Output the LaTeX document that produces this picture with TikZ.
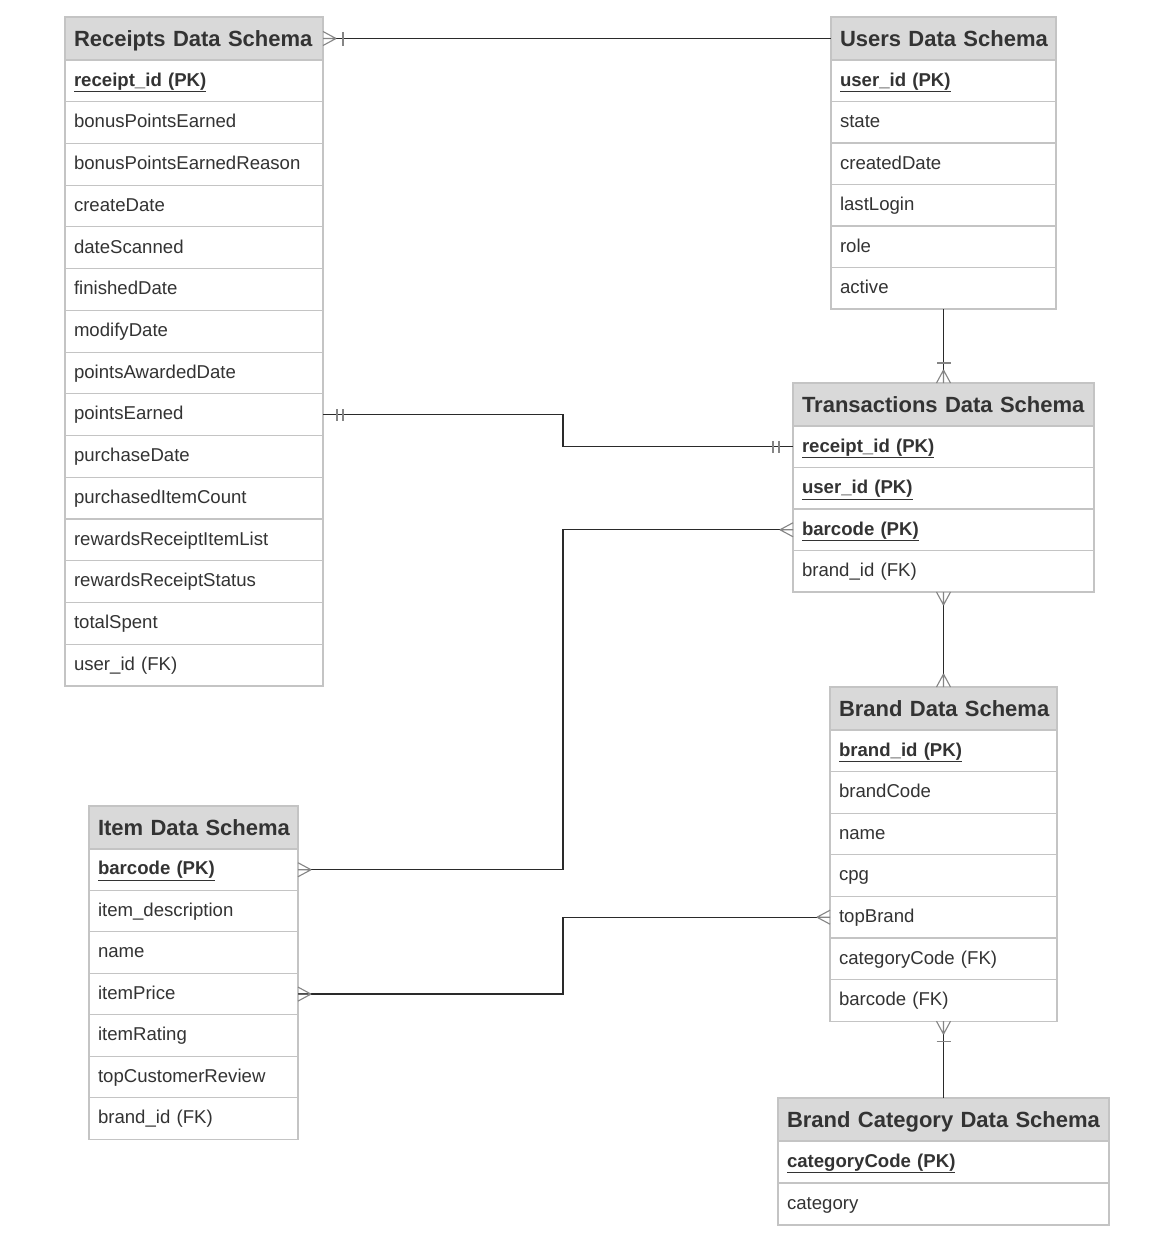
\documentclass[tikz,border=0pt]{standalone}
\usepackage{fontspec}
\setmainfont{Liberation Sans}
\usetikzlibrary{calc}
\definecolor{hdrgray}{HTML}{D9D9D9}
\definecolor{bordergray}{HTML}{C4C4C4}
\definecolor{txt}{HTML}{333333}
\definecolor{linec}{HTML}{2A2A2A}
\definecolor{mkc}{HTML}{858585}
\newcommand\pkey[1]{\textbf{\underline{#1}}}
\hbadness=10000 \hfuzz=50pt
\tikzset{
  hdr/.style={draw=bordergray, line width=1.1pt, fill=hdrgray, anchor=north west, minimum height=43pt,
    inner xsep=9pt, inner ysep=0pt, outer sep=0pt, align=left, text=txt,
    text height=16pt, text depth=-1pt,
    font=\fontsize{22}{25}\selectfont\bfseries},
  rowbox/.style={draw=bordergray, line width=1.1pt, fill=white, anchor=north west,
    inner xsep=9pt, inner ysep=0pt, outer sep=0pt, align=left, text=txt,
    text height=13.5pt, text depth=3pt,
    font=\fontsize{18.6}{22}\selectfont},
  conn/.style={draw=linec, line width=1.4pt},
  mk/.style={draw=mkc, line width=1.1pt},
  crow/.pic={\draw[mk] (-13,0) -- (0,7) (-13,0) -- (0,-7) (-13,0) -- (0,0);},
  onebar/.pic={\draw[mk] (-20,-7) -- (-20,7);},
  twobar/.pic={\draw[mk] (-14,-6) -- (-14,6) (-20,-6) -- (-20,6);}
}
% name, x, y, width, row height, title, rows
\newcommand\schema[7]{%
  \pgfmathsetmacro\tw{#4-18}%
  \node[hdr, minimum width=#4, text width=\tw pt] (#1-0) at (#2,#3) {\mbox{#6}};
  \foreach \t [count=\i] in {#7} {
    \pgfmathtruncatemacro\j{\i-1}
    \node[rowbox, minimum width=#4, minimum height=#5, text width=\tw pt] (#1-\i) at (#1-\j.south west) {\t};
  }
}
\begin{document}
\begin{tikzpicture}[x=1pt, y=-1pt]
\fill[white] (0,0) rectangle (1162,1240);
\useasboundingbox (0,0) rectangle (1162,1240);

\schema{r}{65}{17}{258}{41.73}{Receipts Data Schema}{\pkey{receipt\_id (PK)}, bonusPointsEarned, bonusPointsEarnedReason, createDate, dateScanned, finishedDate, modifyDate, pointsAwardedDate, pointsEarned, purchaseDate, purchasedItemCount, rewardsReceiptItemList, rewardsReceiptStatus, totalSpent, user\_id (FK)}

\schema{u}{831}{17}{225}{41.5}{Users Data Schema}{\pkey{user\_id (PK)}, state, createdDate, lastLogin, role, active}

\schema{t}{793}{383}{301}{41.5}{Transactions Data Schema}{\pkey{receipt\_id (PK)}, \pkey{user\_id (PK)}, \pkey{barcode (PK)}, brand\_id (FK)}

\schema{b}{830}{687}{227}{41.6}{Brand Data Schema}{\pkey{brand\_id (PK)}, brandCode, name, cpg, topBrand, categoryCode (FK), barcode (FK)}

\schema{i}{89}{806}{209}{41.45}{Item Data Schema}{\pkey{barcode (PK)}, item\_description, name, itemPrice, itemRating, topCustomerReview, brand\_id (FK)}

\schema{c}{778}{1098}{331}{42}{Brand Category Data Schema}{\pkey{categoryCode (PK)}, category}

\coordinate (cx) at (563,0);

% connectors
\draw[conn] (r-0.east) -- (u-0.west);
\draw[conn] (u-6.south) -- (t-0.north);
\draw[conn] (r-9.east) -- (r-9.east -| cx) |- (t-1.west);
\draw[conn] (t-3.west) -- (t-3.west -| cx) |- (i-1.east);
\draw[conn] (t-4.south) -- (b-0.north);
\draw[conn] (i-4.east) -- (i-4.east -| cx) |- (b-5.west);
\draw[conn] (b-7.south) -- (c-0.north);

% markers
\pic[rotate=180] at (r-0.east) {crow};
\pic[rotate=180] at (r-0.east) {onebar};
\pic[rotate=-90] at (t-0.north) {crow};
\pic[rotate=-90] at (t-0.north) {onebar};
\pic[rotate=180] at (r-9.east) {twobar};
\pic at (t-1.west) {twobar};
\pic at (t-3.west) {crow};
\pic[rotate=180] at (i-1.east) {crow};
\pic[rotate=90] at (t-4.south) {crow};
\pic[rotate=-90] at (b-0.north) {crow};
\pic[rotate=180] at (i-4.east) {crow};
\pic at (b-5.west) {crow};
\pic[rotate=90] at (b-7.south) {crow};
\pic[rotate=90] at (b-7.south) {onebar};
\end{tikzpicture}
\end{document}
